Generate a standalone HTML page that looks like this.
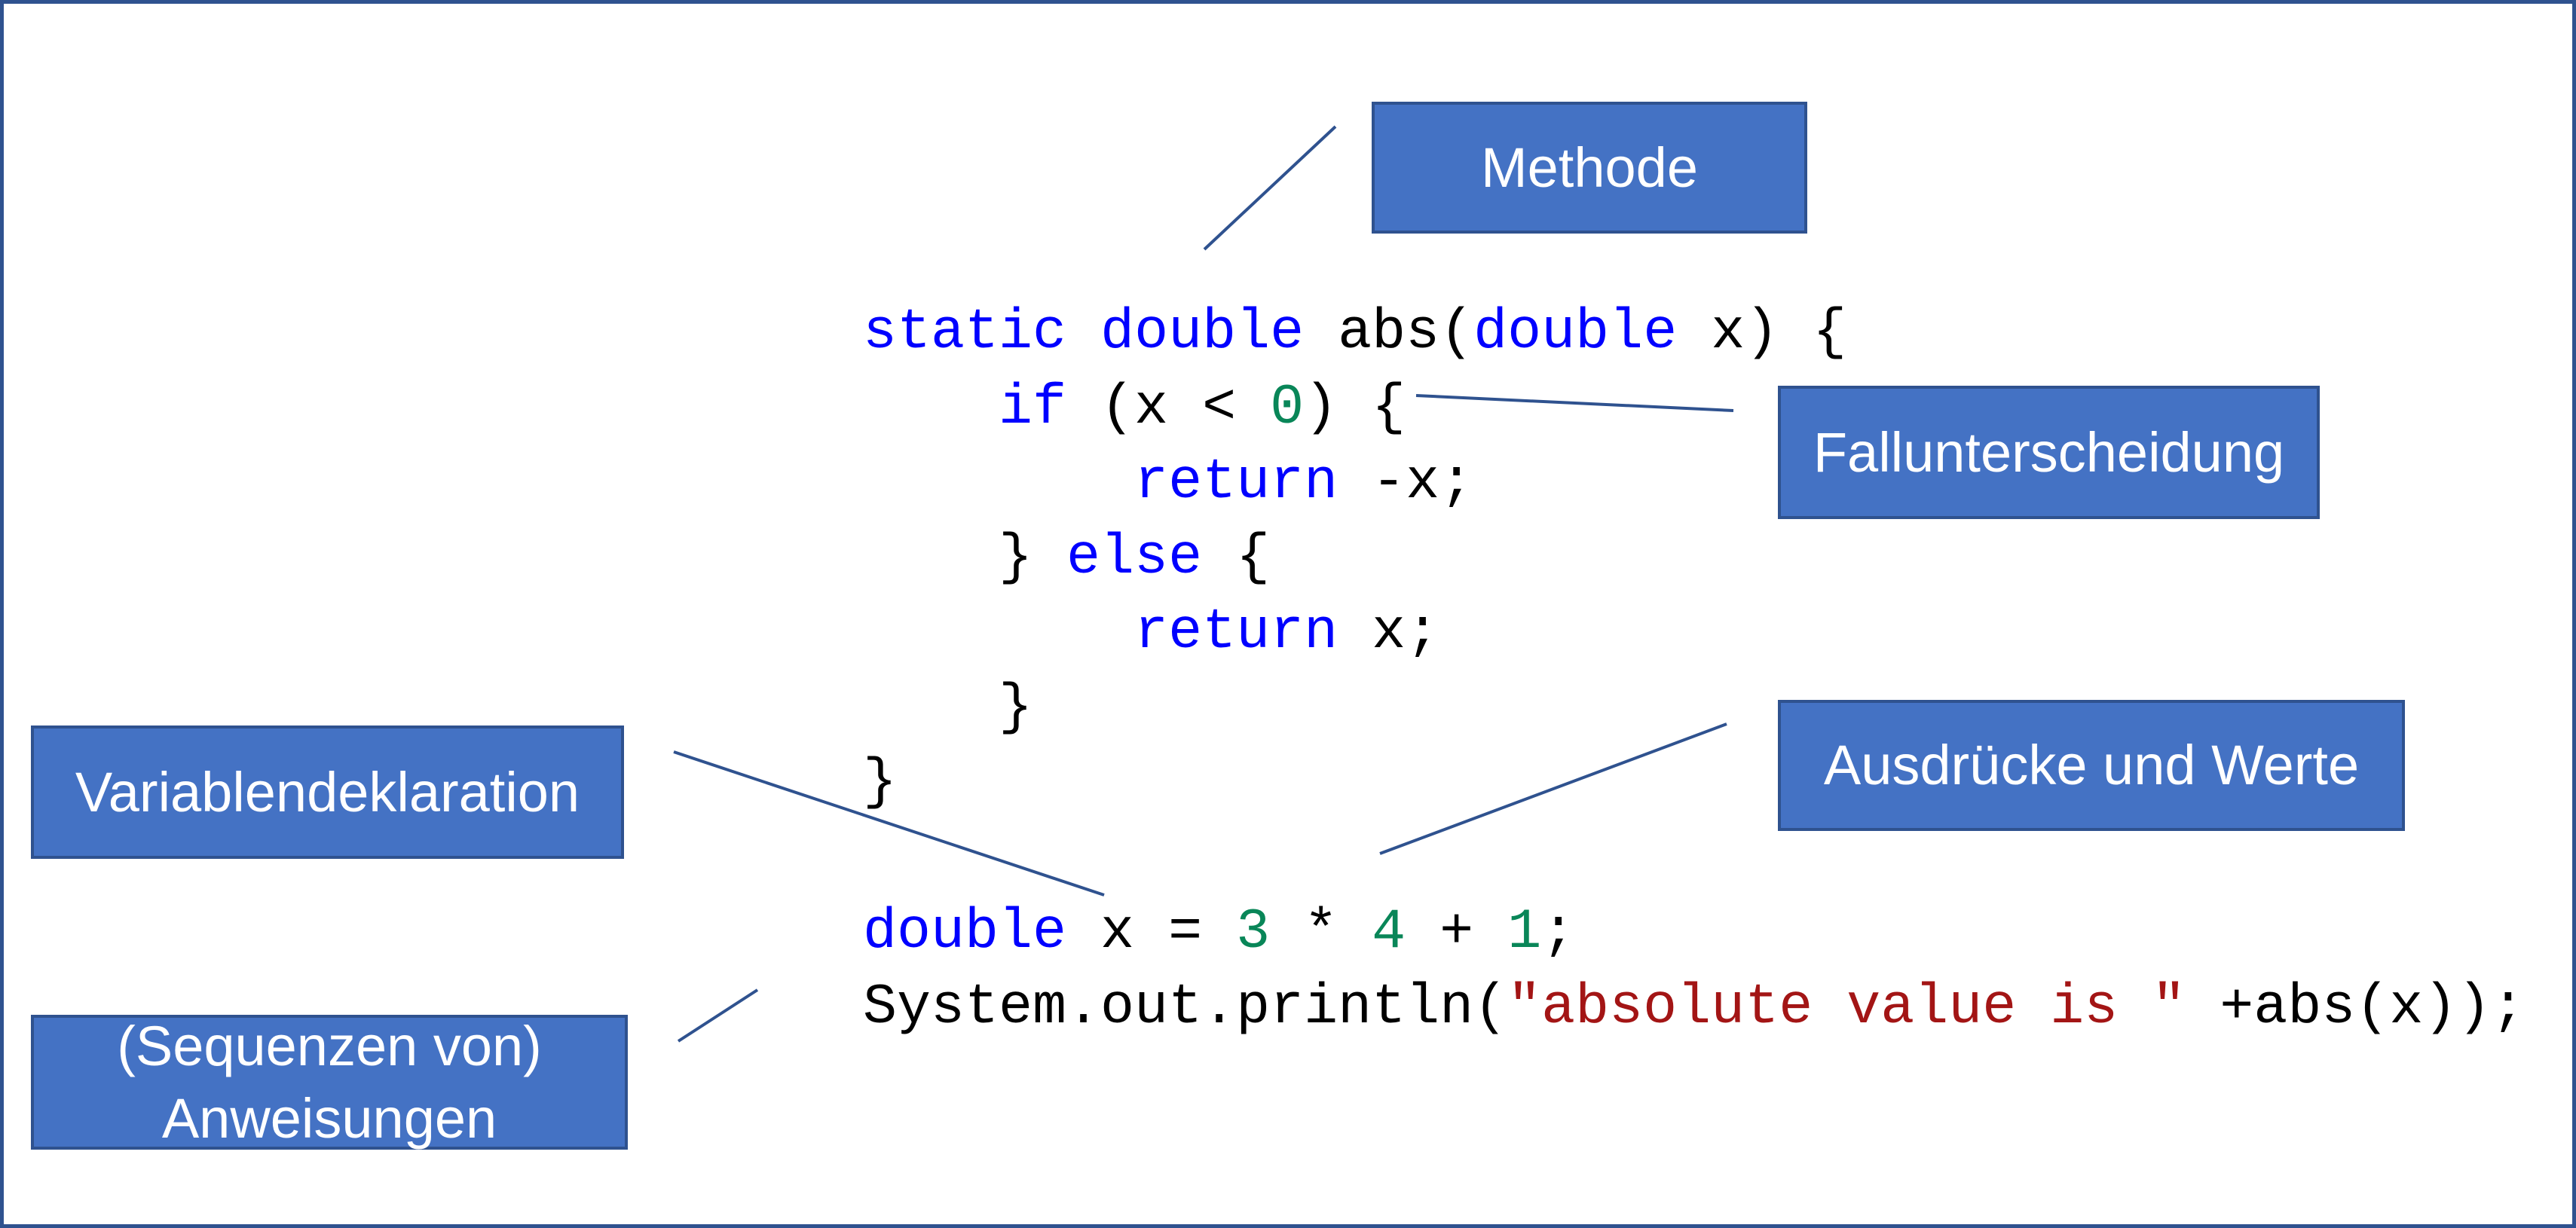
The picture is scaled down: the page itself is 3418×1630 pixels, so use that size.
<!DOCTYPE html>
<html><head><meta charset="utf-8"><style>
html,body{margin:0;padding:0}
body{width:3418px;height:1630px;position:relative;overflow:hidden;background:#fff}
.frame{position:absolute;left:0;top:0;width:3408px;height:1620px;border:5px solid #2F528F}
.box{position:absolute;background:#4472C4;border:4px solid #2F528F;box-sizing:border-box;color:#fff;font-family:"Liberation Sans",sans-serif;font-size:74px;display:flex;align-items:center;justify-content:center;text-align:center;line-height:96px;white-space:nowrap}
pre{position:absolute;left:1145px;top:392px;margin:0;font-family:"Liberation Mono",monospace;font-size:75px;line-height:99.5px;color:#000}
.k{color:#0000FF}.n{color:#098658}.s{color:#A31515}
svg{position:absolute;left:0;top:0}
</style></head><body>
<div class="frame"></div>
<svg width="3418" height="1630"><g stroke="#2F528F" stroke-width="4">
<line x1="1598" y1="331" x2="1772" y2="168"/>
<line x1="1879" y1="525" x2="2300" y2="545"/>
<line x1="1831" y1="1133" x2="2291" y2="961"/>
<line x1="894" y1="998" x2="1465" y2="1188"/>
<line x1="900" y1="1382" x2="1005" y2="1314"/>
</g></svg>
<pre><span class="k">static</span> <span class="k">double</span> abs(<span class="k">double</span> x) {
    <span class="k">if</span> (x &lt; <span class="n">0</span>) {
        <span class="k">return</span> -x;
    } <span class="k">else</span> {
        <span class="k">return</span> x;
    }
}

<span class="k">double</span> x = <span class="n">3</span> * <span class="n">4</span> + <span class="n">1</span>;
System.out.println(<span class="s">"absolute value is "</span> +abs(x));</pre>
<div class="box" style="left:1820px;top:135px;width:578px;height:175px">Methode</div>
<div class="box" style="left:2359px;top:512px;width:719px;height:177px">Fallunterscheidung</div>
<div class="box" style="left:2359px;top:929px;width:832px;height:174px">Ausdrücke und Werte</div>
<div class="box" style="left:41px;top:963px;width:787px;height:177px">Variablendeklaration</div>
<div class="box" style="left:41px;top:1347px;width:792px;height:179px">(Sequenzen von)<br>Anweisungen</div>
</body></html>
